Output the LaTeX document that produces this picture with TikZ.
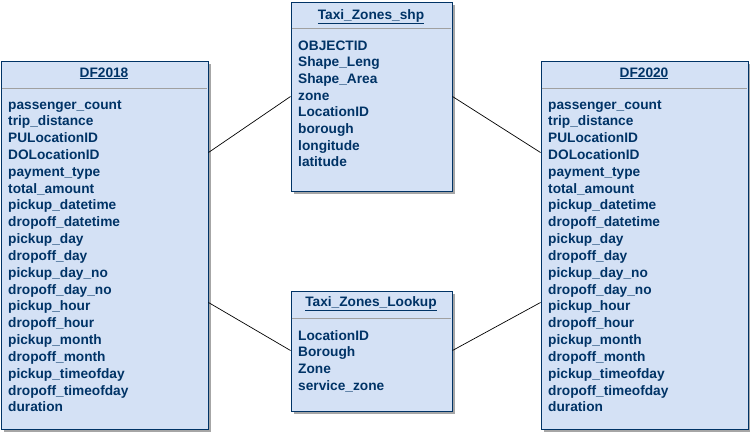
\documentclass[tikz,border=0pt]{standalone}
\usepackage{fontspec}
\setmainfont{Liberation Sans}
\usepackage{xcolor}
\definecolor{tabfill}{RGB}{212, 225, 245}
\definecolor{tabline}{RGB}{0, 51, 102}
\definecolor{tabsep}{RGB}{160, 160, 160}
\usetikzlibrary{positioning,shadows}

\begin{document}
\begin{tikzpicture}[x=1pt, y=-1pt,
    tablebox/.style={draw=tabline, fill=tabfill, line width=1pt, rectangle, inner sep=0pt, anchor=north west,
        drop shadow={shadow xshift=3pt, shadow yshift=-3pt, fill=black!35, opacity=1}},
    tabtitle/.style={text=tabline, font=\bfseries\fontsize{13.7}{15}\selectfont, anchor=base, inner sep=0pt},
    field/.style={text=tabline, font=\bfseries\fontsize{13.7}{15}\selectfont, anchor=base west, inner sep=0pt},
    sepline/.style={draw=tabsep, line width=1pt},
    relation/.style={draw=black, line width=0.7pt}]
    \useasboundingbox (0,0) rectangle (750,434);

    % Tables
    \node[tablebox, minimum width=207pt, minimum height=368pt] (df18) at (0.5,60.5) {};
    \node[tablebox, minimum width=207pt, minimum height=368pt] (df20) at (540.5,60.5) {};
    \node[tablebox, minimum width=161pt, minimum height=189pt] (shp) at (290.5,1.5) {};
    \node[tablebox, minimum width=161pt, minimum height=120pt] (lookup) at (290.5,290.5) {};

    % Titles and separators
    \node[tabtitle] (df18title) at (104,77) {\underline{DF2018}};
    \node[tabtitle] (df20title) at (644,77) {\underline{DF2020}};
    \node[tabtitle] (shptitle) at (371,19) {\underline{Taxi\_Zones\_shp}};
    \node[tabtitle] (lookuptitle) at (371,306) {\underline{Taxi\_Zones\_Lookup}};
    \draw[sepline] (1.5,88) -- (206.5,88);
    \draw[sepline] (541.5,88) -- (746.5,88);
    \draw[sepline] (291.5,28) -- (450.5,28);
    \draw[sepline] (291.5,318) -- (450.5,318);

    % Fields
    \foreach \f [count=\i from 0] in {passenger\_count, trip\_distance, PULocationID, DOLocationID,
        payment\_type, total\_amount, pickup\_datetime, dropoff\_datetime, pickup\_day, dropoff\_day,
        pickup\_day\_no, dropoff\_day\_no, pickup\_hour, dropoff\_hour, pickup\_month, dropoff\_month,
        pickup\_timeofday, dropoff\_timeofday, duration} {
        \node[field] (df18-\i) at (8,109+16.83*\i) {\f};
        \node[field] (df20-\i) at (548,109+16.83*\i) {\f};
    }
    \foreach \f [count=\i from 0] in {OBJECTID, Shape\_Leng, Shape\_Area, zone, LocationID,
        borough, longitude, latitude} {
        \node[field] (shp-\i) at (298,50+16.7*\i) {\f};
    }
    \foreach \f [count=\i from 0] in {LocationID, Borough, Zone, service\_zone} {
        \node[field] (lookup-\i) at (298,340+16.7*\i) {\f};
    }

    % Relations
    \draw[relation] ([yshift=-92pt]df18.north east) -- ([yshift=-95pt]shp.north west);
    \draw[relation] ([yshift=-242pt]df18.north east) -- ([yshift=-60pt]lookup.north west);
    \draw[relation] ([yshift=-95pt]shp.north east) -- ([yshift=-92pt]df20.north west);
    \draw[relation] ([yshift=-60pt]lookup.north east) -- ([yshift=-242pt]df20.north west);
\end{tikzpicture}
\end{document}
